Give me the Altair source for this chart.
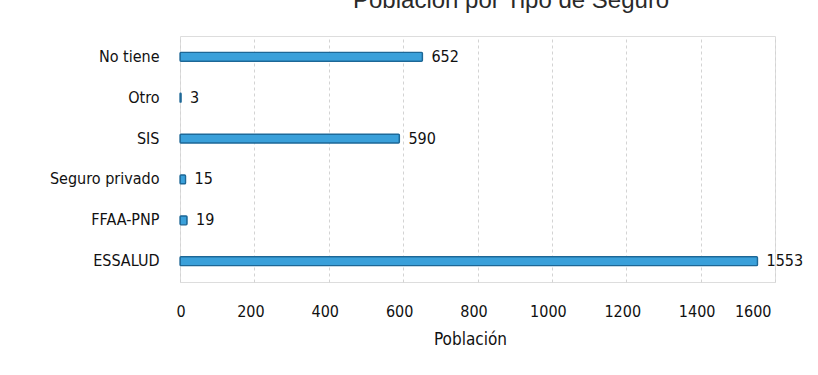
import altair as alt
import pandas as pd

categories = ["No tiene", "Otro", "SIS", "Seguro privado", "FFAA-PNP", "ESSALUD"]
values = [652, 3, 590, 15, 19, 1553]
x_ticks = [0, 200, 400, 600, 800, 1000, 1200, 1400, 1600]

df = pd.DataFrame({"tipo": categories, "poblacion": values})

FONT = "Liberation Sans Narrow, DejaVu Sans Condensed, Arial Narrow, sans-serif"

y_enc = alt.Y("tipo:N", sort=categories, title=None,
              scale=alt.Scale(paddingInner=0.78, paddingOuter=0.4),
              axis=alt.Axis(labelFont=FONT, labelFontSize=16, labelColor="#111",
                            ticks=False, domain=False, labelPadding=21, grid=False))
x_enc = alt.X("poblacion:Q", title="Población",
              scale=alt.Scale(domain=[0, 1600], nice=False),
              axis=alt.Axis(values=x_ticks, format="d", labelFont=FONT, labelFontSize=16,
                            labelColor="#111", labelOffset=-4,
                            titleFont=FONT, titleFontSize=17, titleFontWeight="normal",
                            titleColor="#111", titlePadding=12, titleX=290,
                            ticks=False, domain=False, labelPadding=21,
                            grid=True, gridColor="#d3d3d3", gridDash=[3, 3], gridWidth=1))

bars = alt.Chart(df).mark_bar(
    height=9, color="#3aa0da", stroke="#1d6796", strokeWidth=1.3, cornerRadius=1
).encode(x=x_enc, y=y_enc)

labels = alt.Chart(df).mark_text(
    align="left", baseline="middle", dx=9, font=FONT, fontSize=16, color="#111"
).encode(x="poblacion:Q", y=alt.Y("tipo:N", sort=categories), text=alt.Text("poblacion:Q", format="d"))

chart = (bars + labels).properties(
    width=595, height=246,
    title=alt.TitleParams("Población por Tipo de Seguro", fontSize=24,
                          font="Liberation Sans, Arial, sans-serif", frame="group",
                          fontWeight="normal", color="#2a2a2a", anchor="start", dx=173, offset=23),
    autosize=alt.AutoSizeParams(type="none"),
    padding={"left": 180, "top": 36, "right": 43, "bottom": 93},
).configure_view(stroke=None).configure(background="white")

chart.save("out.html", embed_options={"renderer": "svg", "actions": False})
